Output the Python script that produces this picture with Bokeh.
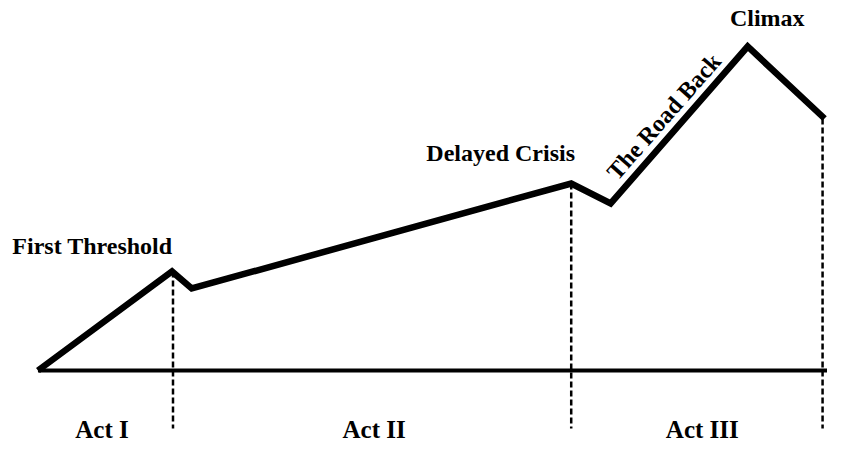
from bokeh.plotting import figure
from bokeh.models import Range1d
from bokeh.core.properties import value
from bokeh.embed import file_html
from bokeh.resources import INLINE

# Story progress (x) and dramatic tension (y) of the plot line
story_x = [38, 174, 194, 579, 619, 758, 836]
tension = [0, 99, 82, 187, 167, 324, 252]

# Act boundaries (dashed lines)
boundary_x = [175, 579, 834]
boundary_top = [99, 187, 252]
boundary_bottom = -58

# Baseline extent
base_x = [38, 840]
base_y = [0, 0]

# Point labels
label_text = ["First Threshold", "Delayed Crisis", "Climax"]
label_x = [12, 432, 740]
label_y = [125, 218, 353]

road_text = ["The Road Back"]
road_x = [673]
road_y = [254]
road_angle = 0.85

# Act labels
act_text = ["Act I", "Act II", "Act III"]
act_x = [103, 379, 712]
act_y = [-59, -59, -59]

FONT = value("Liberation Serif")

p = figure(width=827, height=443, output_backend="svg", toolbar_location=None,
           x_range=Range1d(0, 839), y_range=Range1d(-73, 370),
           min_border=0, min_border_left=0, min_border_right=0,
           min_border_top=0, min_border_bottom=0)
p.axis.visible = False
p.grid.visible = False
p.outline_line_color = None
p.background_fill_color = "white"
p.border_fill_color = "white"

p.line(base_x, base_y, line_width=4, line_color="black")
p.segment(x0=boundary_x, y0=boundary_top, x1=boundary_x,
          y1=[boundary_bottom] * len(boundary_x),
          line_width=2.5, line_color="black", line_dash="6 3")
p.line(story_x, tension, line_width=6.5, line_color="black", line_join="miter")

p.text(x=label_x, y=label_y, text=label_text, text_font=FONT,
       text_font_style="bold", text_font_size="24px", text_color="black",
       text_align="left", text_baseline="alphabetic")
p.text(x=road_x, y=road_y, text=road_text, text_font=FONT,
       text_font_style="bold", text_font_size="24px", text_color="black",
       text_align="center", text_baseline="middle", angle=road_angle)
p.text(x=act_x, y=act_y, text=act_text, text_font=FONT,
       text_font_style="bold", text_font_size="25px", text_color="black",
       text_align="center", text_baseline="alphabetic")

open("out.html", "w").write(file_html(p, INLINE))
